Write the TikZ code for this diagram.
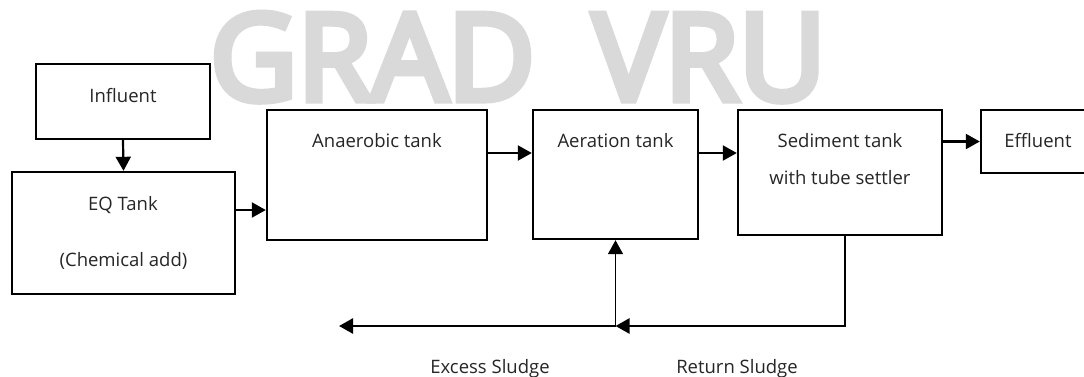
\documentclass[tikz,border=0pt]{standalone}
\usepackage{fontspec}
\setmainfont{Open Sans}
\newfontfamily\wmfont{Open Sans}[FakeBold=6]
\usetikzlibrary{arrows.meta}
\tikzset{
  tank/.style={draw=black, line width=2.4pt, fill=white, inner sep=0pt},
  lbl/.style={anchor=base, inner sep=0pt, text=black!85, font=\fontsize{18.5}{22}\selectfont},
  wmark/.style={anchor=base, inner sep=0pt, text=black!15, font=\fontsize{120}{120}\selectfont\wmfont},
  flow/.style={line width=2.2pt, -{Triangle[length=14pt,width=15pt]}},
  sludge/.style={line width=2.6pt},
  upflow/.style={line width=1.5pt, -{Triangle[length=14pt,width=15pt]}}
}
\begin{document}
\begin{tikzpicture}[x=1pt,y=-1pt]
\useasboundingbox (0,0) rectangle (1084,376);
\clip (0,0) rectangle (1084,376);
\fill[white] (0,0) rectangle (1084,376);
% watermark
\node[wmark] (wg) at (372.5,100) {GRAD};
\node[wmark] (wv) at (709.5,100) {VRU};
% tanks
\node[tank, minimum width=174pt, minimum height=75pt] (infl) at (123,101.5) {};
\node[tank, minimum width=223pt, minimum height=122pt] (eq) at (123.5,233) {};
\node[tank, minimum width=220pt, minimum height=130pt] (anaer) at (377,175) {};
\node[tank, minimum width=165pt, minimum height=129pt] (aer) at (615.5,174.5) {};
\node[tank, minimum width=204pt, minimum height=125pt] (sed) at (840,172.5) {};
\node[tank, minimum width=114pt, minimum height=63pt] (eff) at (1038,141.5) {};
% labels
\node[lbl] (tinfl) at (123,102) {Influent};
\node[lbl] (teq1) at (123,210) {EQ Tank};
\node[lbl] (teq2) at (123.5,266) {(Chemical add)};
\node[lbl] (tanaer) at (377,147) {Anaerobic tank};
\node[lbl] (taer) at (615.5,147) {Aeration tank};
\node[lbl] (tsed1) at (840,147) {Sediment tank};
\node[lbl] (tsed2) at (840,184) {with tube settler};
\node[lbl] (teff) at (1038,147) {Effluent};
\node[lbl] (tex) at (490,373) {Excess Sludge};
\node[lbl] (tret) at (737,373) {Return Sludge};
% connectors
\draw[flow] (infl.south) -- (eq.north);
\coordinate (a1) at ([yshift=23pt]eq.east);
\draw[flow] (a1) -- (a1 -| anaer.west);
\coordinate (a2) at ([yshift=22pt]anaer.east);
\draw[flow] (a2) -- (a2 -| aer.west);
\coordinate (a3) at ([yshift=21.5pt]aer.east);
\draw[flow] (a3) -- (a3 -| sed.west);
\draw[flow] (sed.east |- eff.west) -- (eff.west);
% return sludge loop
\coordinate (rs) at ([xshift=5pt]sed.south);
\coordinate (rc) at (845,326);
\coordinate (junc) at (aer.south |- rc);
\coordinate (exend) at (339,326);
\draw[sludge, -{Triangle[length=14pt,width=15pt]}] (rs) -- (rc) -- (junc);
\draw[sludge, -{Triangle[length=14pt,width=15pt]}] (junc) -- (exend);
\draw[upflow] (junc) -- (aer.south);
\end{tikzpicture}
\end{document}
